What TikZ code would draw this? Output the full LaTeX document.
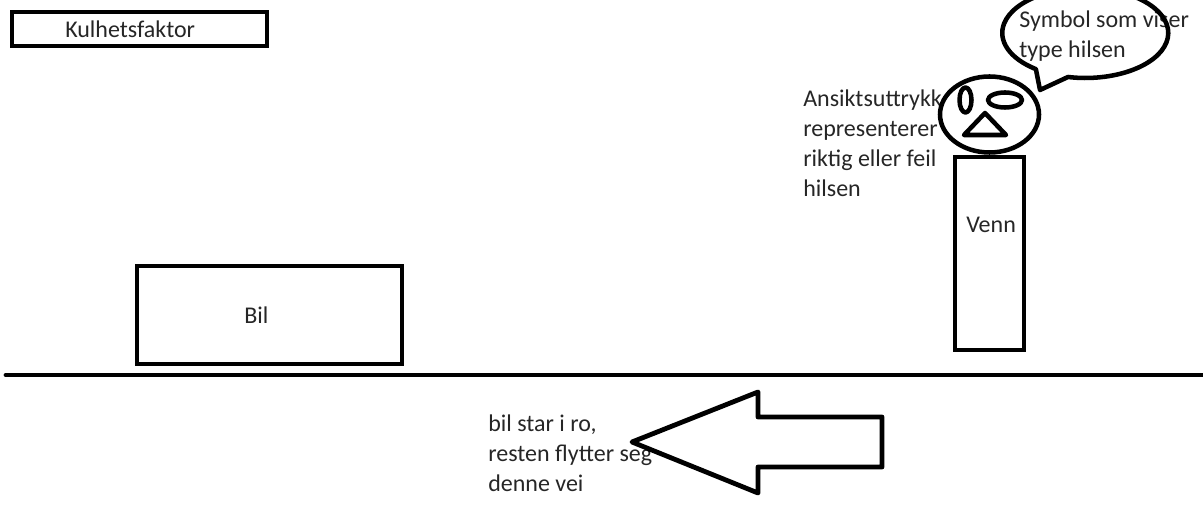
\documentclass[tikz,border=0pt]{standalone}
\usepackage{fontspec}
\setmainfont{Carlito}
\tikzset{
  thickline/.style={line width=3.6pt,draw=black,line join=round},
  thinline/.style={line width=3.4pt,draw=black,line join=round},
  boxline/.style={thickline,line join=miter},
  note/.style={align=left,anchor=north west,inner sep=0pt,text=black!85,font=\fontsize{18}{22.5}\selectfont}
}

\begin{document}
\begin{tikzpicture}[x=0.75pt,y=0.75pt]
  \clip (0,0) rectangle (1203,528);
  \coordinate (GL) at (6,153);
  \coordinate (GR) at (1203,153);
  \coordinate (H) at (989.5,413.5);
  \coordinate (B) at (1086,495);

  \node[note] (kulhet) at (65,507) {Kulhetsfaktor};
  \node[note] (biltxt) at (244,221) {Bil};
  \node[note] (venntxt) at (966,311) {Venn};
  \node[note] (symbol) at (1019,517) {Symbol som viser\\type hilsen};
  \node[note] (ansikt) at (803,438.5) {Ansiktsuttrykk\\representerer\\riktig eller feil\\hilsen};
  \node[note] (rest) at (488,113.5) {bil star i ro,\\resten flytter seg\\denne vei};

  \draw[boxline] (12,482) rectangle (267,516);
  \draw[boxline] (137,164) rectangle (402,262);
  \draw[boxline] (955,178) rectangle (1024,371);
  \draw[thickline,line cap=round] (GL)--(GR);

  % hode
  \draw[thinline] (H) ellipse (49.5 and 38);
  \draw[thinline] (965.5,428) ellipse (6 and 12.5);
  \draw[thinline] (1005,428) ellipse (17 and 7.5);
  \draw[thinline] (985,415)--(964,393)--(1006,393)--cycle;

  % snakkeboble
  \draw[thinline] (1068,451) arc[start angle=258,end angle=593.5,x radius=83,y radius=45]
    --(1040,438)--cycle;

  % pil
  \draw[thickline] (632,86)--(758,136)--(758,111)--(882,111)--(882,61)--(758,61)--(758,35)--cycle;
\end{tikzpicture}
\end{document}
